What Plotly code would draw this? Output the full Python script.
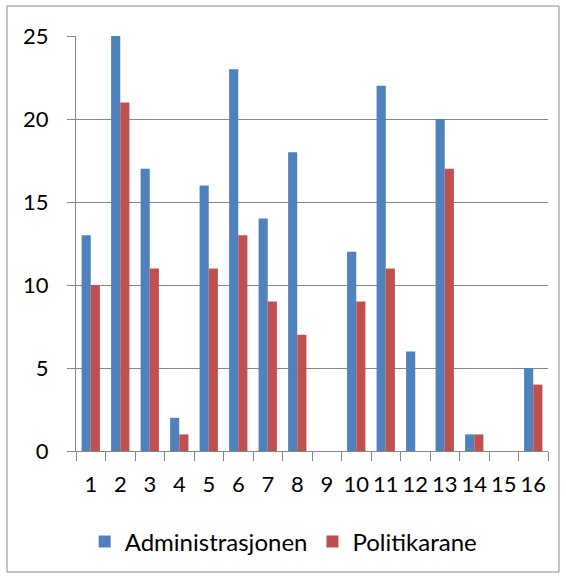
import plotly.graph_objects as go

categories = [str(i) for i in range(1, 17)]
admin = [13, 25, 17, 2, 16, 23, 14, 18, 0, 12, 22, 6, 20, 1, 0, 5]
polit = [10, 21, 11, 1, 11, 13, 9, 7, 0, 9, 11, 0, 17, 1, 0, 4]
y_ticks = [0, 5, 10, 15, 20, 25]

W, H = 566, 579
L, R, T, B = 76, 18, 36, 128
pw, ph = W - L - R, H - T - B

fig = go.Figure()
fig.add_bar(x=categories, y=admin, name="Administrasjonen", marker=dict(color="#4F81BD", line=dict(width=0)))
fig.add_bar(x=categories, y=polit, name="Politikarane", marker=dict(color="#C0504D", line=dict(width=0)))

font = dict(family="Lato, Open Sans, sans-serif", size=22, color="#000000")

fig.update_layout(
    width=W, height=H,
    margin=dict(l=L, r=R, t=T, b=B),
    paper_bgcolor="white", plot_bgcolor="white",
    barmode="group", bargap=0.38, bargroupgap=0,
    font=font,
    showlegend=True,
    legend=dict(orientation="h", x=0.44, xanchor="center", y=(451 - 542) / ph, yanchor="middle",
                font=dict(family="Lato, Open Sans, sans-serif", size=24, color="#000000"),
                bgcolor="rgba(0,0,0,0)", traceorder="normal", itemwidth=30),
    xaxis=dict(type="category", tickson="boundaries", ticks="outside", ticklen=9,
               tickcolor="#868686", showline=True, linecolor="#868686", linewidth=1,
               showgrid=False, tickfont=font, tickangle=0, automargin=False,
               ticklabelstandoff=14),
    yaxis=dict(range=[0, 25], tickvals=y_ticks, ticks="outside", ticklen=8,
               tickcolor="#868686", showline=True, linecolor="#868686", linewidth=1,
               showgrid=True, gridcolor="#868686", gridwidth=1, zeroline=False,
               tickfont=font, ticklabelstandoff=14, automargin=False),
)

fig.add_shape(type="rect", xref="paper", yref="paper",
              x0=(7 - L) / pw, x1=(559 - L) / pw,
              y0=(451 - 572) / ph, y1=(451 - 6) / ph,
              line=dict(color="#868686", width=1), fillcolor="rgba(0,0,0,0)", layer="above")

fig.write_html("out.html", config={"displayModeBar": False},
               post_script="document.body.style.margin='0';document.body.style.overflow='hidden';")
